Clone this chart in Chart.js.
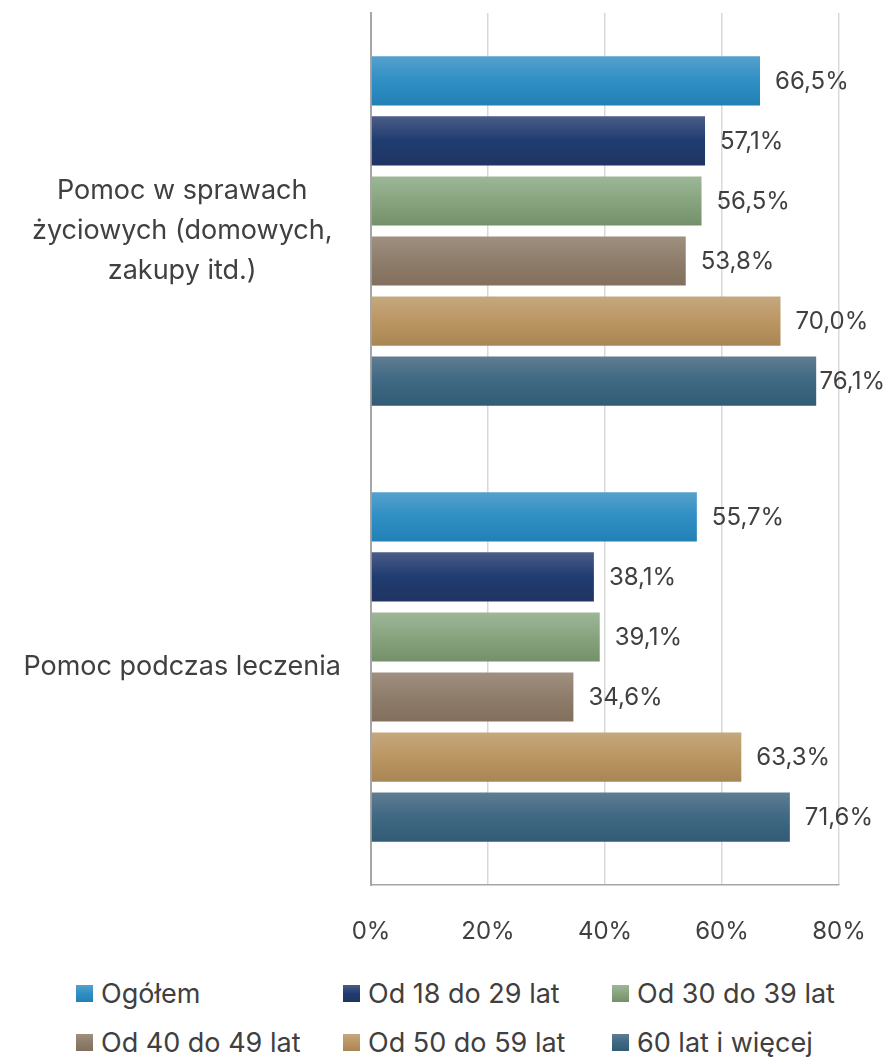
<!DOCTYPE html>
<html>
<head>
<meta charset="utf-8">
<script src="https://cdn.jsdelivr.net/npm/chart.js@4.4.1/dist/chart.umd.min.js"></script>
<style>
  body { margin: 0; background: #fff; font-family: "Inter", sans-serif; color: #404040; }
  #wrap { position: relative; width: 887px; height: 1057px; overflow: hidden; }
  #chart-box { position: absolute; left: 0; top: 0; width: 887px; height: 960px; }
  .legend-item { position: absolute; display: flex; align-items: center; font-size: 27px; white-space: nowrap; }
  .legend-item span.box { width: 17px; height: 17px; margin-right: 8px; display: inline-block; }
</style>
</head>
<body>
<div id="wrap">
  <div id="chart-box"><canvas id="my-chart"></canvas></div>
  <div id="legend"></div>
</div>
<script>
// categories (y axis)
const categories = [
  ['Pomoc w sprawach', 'życiowych (domowych,', 'zakupy itd.)'],
  'Pomoc podczas leczenia'
]
// series names
const seriesNames = ['Ogółem', 'Od 18 do 29 lat', 'Od 30 do 39 lat', 'Od 40 do 49 lat', 'Od 50 do 59 lat', '60 lat i więcej']
// values in %, one array per series (first category, second category)
const ogolem = [66.5, 55.7]
const od18do29 = [57.1, 38.1]
const od30do39 = [56.5, 39.1]
const od40do49 = [53.8, 34.6]
const od50do59 = [70.0, 63.3]
const od60 = [76.1, 71.6]
const xTicks = [0, 20, 40, 60, 80]

// gradient colours top -> bottom for every series
const gradients = [
  ['#55a0cc', '#2f8fc4', '#2280b4'],
  ['#4b5c88', '#1f3c70', '#203462'],
  ['#9db797', '#87a47f', '#73906a'],
  ['#a09080', '#8e7d6b', '#826f5c'],
  ['#c4a87e', '#bb9663', '#a88654'],
  ['#607d92', '#3e6883', '#325b75']
]
const seriesData = [ogolem, od18do29, od30do39, od40do49, od50do59, od60]

const fontFamily = '"Inter", sans-serif'
const textColor = '#404040'

// paint each bar with its own vertical gradient
const barGradient = {
  id: 'barGradient',
  beforeDatasetsDraw(chart) {
    const ctx = chart.ctx
    chart.data.datasets.forEach((ds, di) => {
      const meta = chart.getDatasetMeta(di)
      meta.data.forEach(bar => {
        const top = bar.y - bar.height / 2
        const g = ctx.createLinearGradient(0, top, 0, top + bar.height)
        const c = gradients[di]
        g.addColorStop(0, c[0])
        g.addColorStop(0.5, c[1])
        g.addColorStop(1, c[2])
        bar.options = Object.assign({}, bar.options, {backgroundColor: g})
      })
    })
  }
}

// value labels at the bar ends
const valueLabels = {
  id: 'valueLabels',
  afterDatasetsDraw(chart) {
    const ctx = chart.ctx
    ctx.save()
    ctx.font = '24px ' + fontFamily
    ctx.fillStyle = textColor
    ctx.textBaseline = 'middle'
    ctx.textAlign = 'left'
    chart.data.datasets.forEach((ds, di) => {
      const meta = chart.getDatasetMeta(di)
      meta.data.forEach((bar, i) => {
        const txt = ds.data[i].toFixed(1).replace('.', ',') + '%'
        const w = ctx.measureText(txt).width
        let x = bar.x + 15
        if (x + w > chart.width - 2) x = chart.width - 2 - w
        ctx.fillText(txt, x, bar.y + 1)
      })
    })
    ctx.restore()
  }
}

new Chart(document.getElementById('my-chart'), {
  type: 'bar',
  data: {
    labels: categories,
    datasets: seriesNames.map((name, i) => ({
      label: name,
      data: seriesData[i],
      backgroundColor: gradients[i][1],
      categoryPercentage: 0.826,
      barPercentage: 0.82
    }))
  },
  options: {
    indexAxis: 'y',
    responsive: true,
    maintainAspectRatio: false,
    animation: false,
    layout: { padding: { top: 13, right: 48, left: 0, bottom: 0 } },
    plugins: {
      legend: { display: false },
      tooltip: { enabled: false }
    },
    scales: {
      x: {
        min: 0,
        max: 80,
        afterBuildTicks: axis => { axis.ticks = xTicks.map(v => ({value: v})) },
        grid: { color: '#d9d9d9', lineWidth: 1.5, drawTicks: false },
        border: { display: true, color: '#a6a6a6', width: 1.5 },
        ticks: {
          color: textColor,
          padding: 32,
          font: { family: fontFamily, size: 24 },
          callback: v => v + '%'
        },
        afterFit: s => {
          s.height = 75
          s.paddingLeft = 0
          s.paddingRight = 0
        }
      },
      y: {
        grid: { display: false, drawTicks: false },
        border: { display: true, color: '#a6a6a6', width: 2 },
        ticks: {
          color: textColor,
          crossAlign: 'center',
          padding: 30,
          font: { family: fontFamily, size: 27, lineHeight: 1.48 }
        },
        afterFit: s => {
          s.width = 371
          s.paddingTop = 0
          s.paddingBottom = 0
        }
      }
    }
  },
  plugins: [barGradient, valueLabels]
})

// legend in two rows of three
const legendPos = [
  [76, 986], [343, 986], [612, 986],
  [76, 1035], [343, 1035], [612, 1035]
]
const legend = document.getElementById('legend')
seriesNames.forEach((name, i) => {
  const item = document.createElement('div')
  item.className = 'legend-item'
  item.style.left = legendPos[i][0] + 'px'
  item.style.top = (legendPos[i][1] - 9) + 'px'
  const c = gradients[i]
  item.innerHTML = '<span class="box" style="background:linear-gradient(' + c[0] + ',' + c[1] + ',' + c[2] + ')"></span>' + name
  legend.appendChild(item)
})
</script>
</body>
</html>
